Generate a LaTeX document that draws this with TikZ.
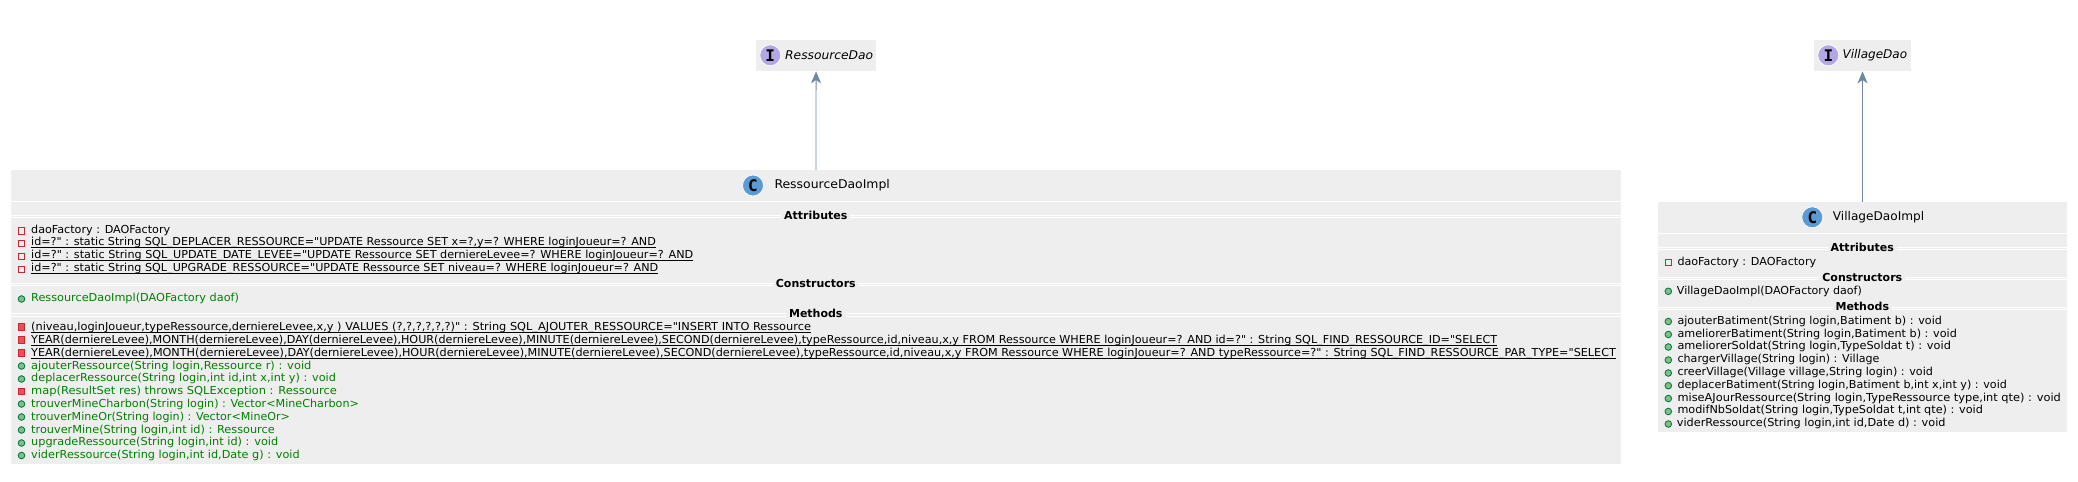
\documentclass[tikz,border=0pt]{standalone}
\usepackage{graphicx}
\usepackage{fontspec}
\newfontfamily\dv{DejaVu Sans}
\newfontfamily\dvm{DejaVu Sans Mono}
\usetikzlibrary{arrows.meta}
\definecolor{boxfill}{HTML}{EEEEEE}
\definecolor{edgecol}{HTML}{6F87A2}
\definecolor{cblue}{HTML}{5B9BD5}
\definecolor{ipurple}{HTML}{B4A7E5}
\definecolor{privred}{HTML}{C82930}
\definecolor{privfill}{HTML}{F24D5C}
\definecolor{pubgreen}{HTML}{038048}
\definecolor{pubfill}{HTML}{84BE84}
\definecolor{methgreen}{HTML}{008000}
\tikzset{
  x=1pt,y=-1pt,
  classbox/.style={fill=boxfill,draw=none,inner sep=0pt,anchor=north west},
  badge/.style={circle,draw=white,line width=.7pt,inner sep=0pt,minimum size=21pt,font=\dvm\fontsize{16}{16}\selectfont\bfseries},
  classname/.style={inner sep=0pt,anchor=west,font=\dv\fontsize{12}{12}\selectfont},
  ifacename/.style={classname,font=\dv\fontsize{12}{12}\selectfont\itshape},
  row/.style={inner sep=0pt,anchor=base west,font=\dv\fontsize{11}{11}\selectfont},
  grn/.style={row,text=methgreen},
  seclabel/.style={fill=boxfill,inner sep=0pt,inner xsep=3pt,minimum height=10pt,font=\dv\fontsize{11}{11}\selectfont\bfseries},
  sepline/.style={draw=white,line width=.9pt},
  underl/.style={draw=black,line width=.9pt},
  privfield/.style={draw=privred,line width=.9pt,fill=none,minimum size=6.2pt,inner sep=0pt},
  privmeth/.style={draw=privred,line width=.9pt,fill=privfill,minimum size=6.2pt,inner sep=0pt},
  pubmeth/.style={circle,draw=pubgreen,line width=.9pt,fill=pubfill,minimum size=6.6pt,inner sep=0pt},
  implarrow/.style={draw=edgecol,line width=.9pt,-{Stealth[length=12pt,width=10pt,inset=3.5pt,fill=edgecol]}}
}
\newcommand{\dbl}[3]{\path[sepline] (#1,#3-1.2) -- (#2,#3-1.2) (#1,#3+1.2) -- (#2,#3+1.2);}
\newcommand{\fitrow}[2]{\resizebox{#1pt}{\height}{#2}}
\begin{document}
\begin{tikzpicture}
\useasboundingbox (0,0) rectangle (2078,482);
% interfaces
\node[classbox,minimum width=119.7pt,minimum height=31pt] (ird) at (756,40) {};
\node[badge,fill=ipurple] (irdb) at (770.3,55.3) {I};
\node[ifacename] (irdn) at (785,55.5) {\fitrow{88}{RessourceDao}};
\node[classbox,minimum width=96.7pt,minimum height=31pt] (ivd) at (1814,40) {};
\node[badge,fill=ipurple] (ivdb) at (1828.3,55.3) {I};
\node[ifacename] (ivdn) at (1842.3,55.5) {\fitrow{64.7}{VillageDao}};
% classes
\node[classbox,minimum width=1609.6pt,minimum height=293.3pt] (rc) at (11,170) {};
\node[badge,fill=cblue] (rcb) at (753,185.5) {C};
\node[classname] (rcn) at (774.3,185.5) {\fitrow{115.4}{RessourceDaoImpl}};
\node[classbox,minimum width=408.7pt,minimum height=229.7pt] (vc) at (1658,202) {};
\node[badge,fill=cblue] (vcb) at (1812.3,217.3) {C};
\node[classname] (vcn) at (1832.7,217.5) {\fitrow{91.3}{VillageDaoImpl}};
% connectors
\draw[implarrow] (rc.north) -- (ird.south);
\draw[implarrow] (vc.north) -- (ivd.south);
% separators Ressource
\path[sepline] (11,201.3) -- (1620.6,201.3);
\dbl{11}{1620.6}{216.4}
\dbl{11}{1620.6}{284.6}
\dbl{11}{1620.6}{315}
\node[seclabel] (ra) at (815.8,215.2) {Attributes};
\node[seclabel] (rk) at (815.8,283.6) {Constructors};
\node[seclabel] (rm) at (815.8,313.6) {Methods};
% separators Village
\path[sepline] (1658,233.3) -- (2066.7,233.3);
\dbl{1658}{2066.7}{248.4}
\dbl{1658}{2066.7}{278.6}
\dbl{1658}{2066.7}{308.6}
\node[seclabel] (va) at (1862.3,247) {Attributes};
\node[seclabel] (vk) at (1862.3,277) {Constructors};
\node[seclabel] (vm) at (1862.3,306.5) {Methods};
% Ressource attributes
\node[row] (r1) at (31,233.2) {\fitrow{139}{daoFactory : DAOFactory}};
\node[row] (r2) at (31,245.2) {\fitrow{624.6}{id=?" : static String SQL\_DEPLACER\_RESSOURCE="UPDATE Ressource SET x=?,y=? WHERE loginJoueur=? AND}};
\node[row] (r3) at (31,258.2) {\fitrow{662}{id=?" : static String SQL\_UPDATE\_DATE\_LEVEE="UPDATE Ressource SET derniereLevee=? WHERE loginJoueur=? AND}};
\node[row] (r4) at (31,271.2) {\fitrow{627}{id=?" : static String SQL\_UPGRADE\_RESSOURCE="UPDATE Ressource SET niveau=? WHERE loginJoueur=? AND}};
\node[grn] (r5) at (31,301.2) {\fitrow{207.8}{RessourceDaoImpl(DAOFactory daof)}};
\node[row] (r6) at (31,330) {\fitrow{779.7}{(niveau,loginJoueur,typeRessource,derniereLevee,x,y ) VALUES (?,?,?,?,?,?)" : String SQL\_AJOUTER\_RESSOURCE="INSERT INTO Ressource}};
\node[row] (r7) at (31,343) {\fitrow{1466}{YEAR(derniereLevee),MONTH(derniereLevee),DAY(derniereLevee),HOUR(derniereLevee),MINUTE(derniereLevee),SECOND(derniereLevee),typeRessource,id,niveau,x,y FROM Ressource WHERE loginJoueur=? AND id=?" : String SQL\_FIND\_RESSOURCE\_ID="SELECT}};
\node[row] (r8) at (31,356) {\fitrow{1584.7}{YEAR(derniereLevee),MONTH(derniereLevee),DAY(derniereLevee),HOUR(derniereLevee),MINUTE(derniereLevee),SECOND(derniereLevee),typeRessource,id,niveau,x,y FROM Ressource WHERE loginJoueur=? AND typeRessource=?" : String SQL\_FIND\_RESSOURCE\_PAR\_TYPE="SELECT}};
\node[grn] (r9) at (31,369) {\fitrow{280.2}{ajouterRessource(String login,Ressource r) : void}};
\node[grn] (r10) at (31,381.5) {\fitrow{304.7}{deplacerRessource(String login,int id,int x,int y) : void}};
\node[grn] (r11) at (31,394.3) {\fitrow{305.7}{map(ResultSet res) throws SQLException : Ressource}};
\node[grn] (r12) at (31,407) {\fitrow{327.7}{trouverMineCharbon(String login) : Vector<MineCharbon>}};
\node[grn] (r13) at (31,420) {\fitrow{258.8}{trouverMineOr(String login) : Vector<MineOr>}};
\node[grn] (r14) at (31,433) {\fitrow{243.5}{trouverMine(String login,int id) : Ressource}};
\node[grn] (r15) at (31,445) {\fitrow{247}{upgradeRessource(String login,int id) : void}};
\node[grn] (r16) at (31,458) {\fitrow{268.5}{viderRessource(String login,int id,Date g) : void}};
% underlines
\foreach \n in {r2,r3,r4,r6,r7,r8}{
  \path[underl] ([yshift=-2pt]\n.base west) -- ([yshift=-2pt]\n.base east);
}
% markers Ressource
\node[privfield] (m1) at (21.5,231) {};
\node[privfield] (m2) at (21.5,243.5) {};
\node[privfield] (m3) at (21.5,256.5) {};
\node[privfield] (m4) at (21.5,269.5) {};
\node[pubmeth] (m5) at (21.5,299) {};
\node[privmeth] (m6) at (21.5,327) {};
\node[privmeth] (m7) at (21.5,340) {};
\node[privmeth] (m8) at (21.5,353) {};
\node[pubmeth] (m9) at (21.5,366) {};
\node[pubmeth] (m10) at (21.5,379) {};
\node[privmeth] (m11) at (21.5,391.5) {};
\node[pubmeth] (m12) at (21.5,404) {};
\node[pubmeth] (m13) at (21.5,417) {};
\node[pubmeth] (m14) at (21.5,430) {};
\node[pubmeth] (m15) at (21.5,443) {};
\node[pubmeth] (m16) at (21.5,455.5) {};
% Village rows
\node[row] (v1) at (1677.3,265) {\fitrow{138.7}{daoFactory : DAOFactory}};
\node[row] (v2) at (1676.7,294) {\fitrow{185}{VillageDaoImpl(DAOFactory daof)}};
\node[row] (v3) at (1677.3,324) {\fitrow{264.4}{ajouterBatiment(String login,Batiment b) : void}};
\node[row] (v4) at (1677.3,337) {\fitrow{279.4}{ameliorerBatiment(String login,Batiment b) : void}};
\node[row] (v5) at (1677.3,349) {\fitrow{273.4}{ameliorerSoldat(String login,TypeSoldat t) : void}};
\node[row] (v6) at (1677.3,362) {\fitrow{202}{chargerVillage(String login) : Village}};
\node[row] (v7) at (1677.3,375) {\fitrow{255.4}{creerVillage(Village village,String login) : void}};
\node[row] (v8) at (1677.3,388) {\fitrow{329.4}{deplacerBatiment(String login,Batiment b,int x,int y) : void}};
\node[row] (v9) at (1677.3,401) {\fitrow{383.4}{miseAJourRessource(String login,TypeRessource type,int qte) : void}};
\node[row] (v10) at (1677.3,413) {\fitrow{305.4}{modifNbSoldat(String login,TypeSoldat t,int qte) : void}};
\node[row] (v11) at (1676.7,426) {\fitrow{268.6}{viderRessource(String login,int id,Date d) : void}};
\node[privfield] (n1) at (1668.3,262.5) {};
\node[pubmeth] (n2) at (1668.3,291.3) {};
\node[pubmeth] (n3) at (1668.3,321.5) {};
\node[pubmeth] (n4) at (1668.3,334.5) {};
\node[pubmeth] (n5) at (1668.3,347) {};
\node[pubmeth] (n6) at (1668.3,360) {};
\node[pubmeth] (n7) at (1668.3,373) {};
\node[pubmeth] (n8) at (1668.3,385.7) {};
\node[pubmeth] (n9) at (1668.3,398.5) {};
\node[pubmeth] (n10) at (1668.3,411.5) {};
\node[pubmeth] (n11) at (1668.3,424) {};
\end{tikzpicture}
\end{document}
